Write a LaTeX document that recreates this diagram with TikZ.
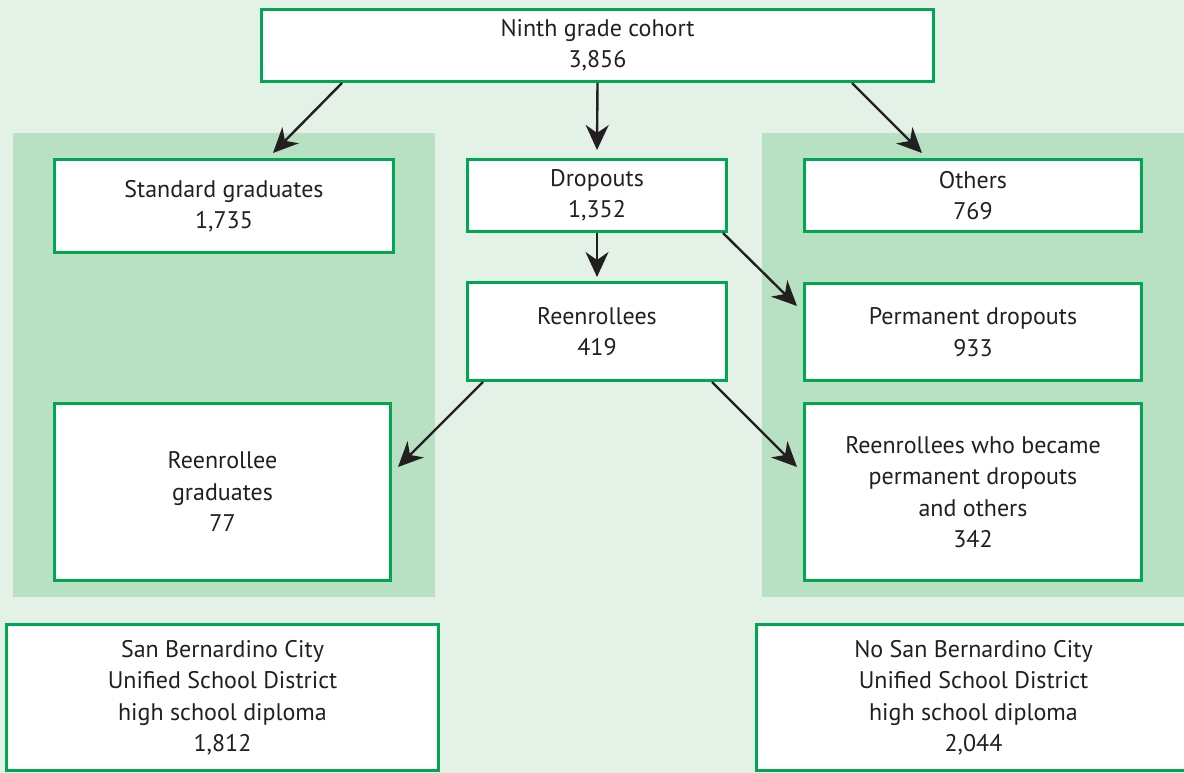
\documentclass[tikz,border=0pt]{standalone}
\usepackage{fontspec}
\setmainfont{PT Sans}
\usetikzlibrary{arrows.meta}
\definecolor{bgc}{RGB}{228,241,231}
\definecolor{panelc}{RGB}{184,224,194}
\definecolor{boxline}{RGB}{0,166,81}
\definecolor{ink}{RGB}{35,31,32}
\tikzset{
  box/.style={draw=boxline, line width=3pt, fill=white, align=center, text=ink,
    inner sep=0pt, font=\fontsize{24}{31.5}\selectfont},
  arr/.style={draw=ink, line width=2.4pt, -{Stealth[length=25pt,width=23pt,inset=8pt]}},
  panel/.style={fill=panelc, draw=none}
}
\begin{document}
\begin{tikzpicture}[x=1pt,y=-1pt]
\useasboundingbox (0,0) rectangle (1184,773);
\fill[bgc] (0,0) rectangle (1184,773);
\fill[panelc] (13,133) rectangle (435,597);
\fill[panelc] (762,133) rectangle (1190,597);

\node[box, minimum width=672pt, minimum height=72pt] (ninth) at (597.5,45.5) {Ninth grade cohort\\3,856};
\node[box, minimum width=339pt, minimum height=93pt] (std) at (224,206) {Standard graduates\\1,735};
\node[box, minimum width=259pt, minimum height=72pt] (drop) at (597,195.5) {Dropouts\\1,352};
\node[box, minimum width=337pt, minimum height=72pt] (others) at (973,195.5) {Others\\769};
\node[box, minimum width=259pt, minimum height=98pt] (reen) at (597,331.5) {Reenrollees\\419};
\node[box, minimum width=337pt, minimum height=97pt] (perm) at (973,332) {Permanent dropouts\\933};
\node[box, minimum width=336pt, minimum height=177pt] (rg) at (222.5,492) {Reenrollee\\graduates\\77};
\node[box, minimum width=337pt, minimum height=177pt] (rwb) at (973,492) {Reenrollees who became\\permanent dropouts\\and others\\342};
\node[box, minimum width=432pt, minimum height=146pt] (sb) at (222.5,697.5) {San Bernardino City\\Unified School District\\high school diploma\\1,812};
\node[box, minimum width=434pt, minimum height=146pt] (nsb) at (973.5,697.5) {No San Bernardino City\\Unified School District\\high school diploma\\2,044};

\draw[arr] ([xshift=-255.5pt]ninth.south) -- ([xshift=49pt,yshift=5pt]std.north);
\draw[arr] (ninth.south) -- ([yshift=8pt]drop.north);
\draw[arr] ([xshift=254.5pt]ninth.south) -- ([xshift=-51pt,yshift=5pt]others.north);
\draw[arr] (drop.south) -- ([yshift=4pt]reen.north);
\draw[arr] ([xshift=-5pt]drop.south east) -- ([xshift=-6pt,yshift=26pt]perm.west);
\draw[arr] ([xshift=17pt]reen.south west) -- ([xshift=6pt,yshift=25pt]rg.east);
\draw[arr] ([xshift=-16pt]reen.south east) -- ([xshift=-6pt,yshift=25pt]rwb.west);
\end{tikzpicture}
\end{document}
